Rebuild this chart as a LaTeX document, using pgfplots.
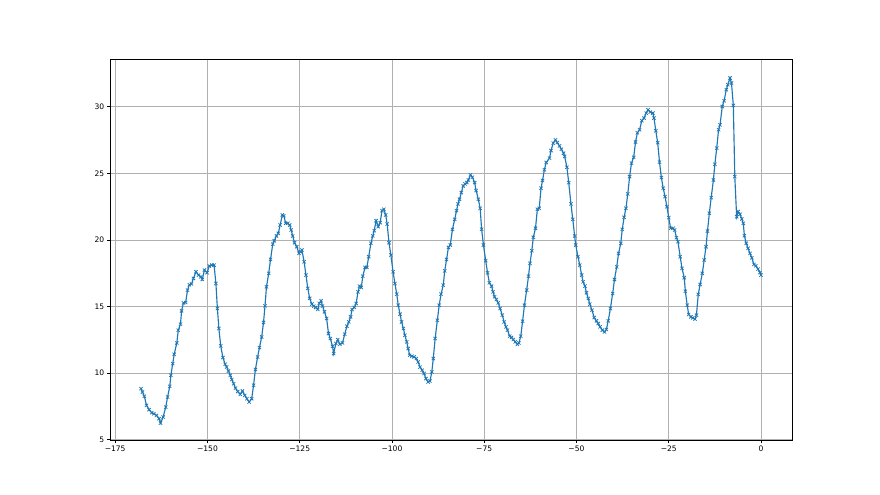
\documentclass[border=0pt]{standalone}
\usepackage{pgfplots}
\pgfplotsset{compat=1.18}
\usepackage{fontspec}
\setmainfont{DejaVu Sans}
\definecolor{tabblue}{HTML}{1F77B4}
\definecolor{gridgray}{HTML}{B0B0B0}
\pgfplotstableread{
x y
-168.0 8.82
-167.6 8.56
-167.1 8.24
-166.5 7.56
-165.8 7.24
-165.1 7.01
-164.5 6.93
-163.8 6.81
-163.1 6.56
-162.7 6.23
-162.0 6.68
-161.3 7.43
-160.8 8.19
-160.2 8.99
-159.9 9.82
-159.4 10.70
-159.0 11.40
-158.3 12.25
-157.9 13.21
-157.3 13.66
-157.0 14.66
-156.5 15.26
-155.9 15.29
-155.4 16.22
-154.9 16.62
-154.3 16.69
-153.8 17.10
-153.1 17.60
-152.4 17.35
-151.8 17.22
-151.4 17.02
-150.8 17.73
-150.1 17.53
-149.5 18.03
-148.8 18.10
-148.2 18.10
-147.7 16.72
-147.3 14.84
-146.9 13.34
-146.4 12.03
-145.8 11.15
-145.2 10.65
-144.8 10.44
-144.3 10.14
-143.8 9.82
-143.4 9.50
-142.9 9.19
-142.4 8.85
-141.8 8.60
-141.1 8.39
-140.5 8.64
-139.9 8.31
-139.3 8.06
-138.7 7.81
-138.0 8.06
-137.5 9.07
-137.0 10.25
-136.4 11.20
-135.9 11.90
-135.3 12.70
-134.8 13.79
-134.4 15.04
-134.0 16.47
-133.4 17.48
-132.9 18.53
-132.3 19.68
-131.9 19.93
-131.3 20.29
-130.8 20.49
-130.3 21.11
-129.7 21.87
-129.3 21.81
-128.8 21.24
-128.2 21.24
-127.7 21.11
-127.3 20.74
-126.9 20.29
-126.4 19.78
-125.8 19.48
-125.2 18.98
-124.8 19.11
-124.4 19.23
-123.8 18.35
-123.3 17.35
-122.8 16.35
-122.3 15.60
-121.7 15.17
-121.2 15.02
-120.7 14.92
-120.1 14.77
-119.7 15.22
-119.2 15.42
-118.8 15.02
-118.3 14.59
-117.7 14.09
-117.2 12.96
-116.7 12.58
-116.1 12.00
-115.8 11.45
-115.2 12.21
-114.7 12.50
-114.1 12.15
-113.4 12.25
-112.8 12.91
-112.2 13.51
-111.7 13.83
-111.2 14.21
-110.8 14.77
-110.2 14.92
-109.7 15.22
-109.2 16.09
-108.8 16.52
-108.3 16.42
-107.9 17.27
-107.3 17.93
-106.8 17.93
-106.3 18.73
-105.7 19.74
-105.2 20.29
-104.8 20.69
-104.3 21.44
-103.7 20.99
-103.2 21.29
-102.7 22.19
-102.2 22.30
-101.7 21.87
-101.3 21.19
-100.8 19.78
-100.3 18.86
-99.7 17.60
-99.2 16.72
-98.7 15.92
-98.3 15.09
-97.8 14.41
-97.4 13.83
-96.9 13.34
-96.5 12.83
-96.0 12.33
-95.6 11.83
-95.2 11.33
-94.6 11.25
-94.0 11.20
-93.4 11.08
-92.9 10.82
-92.4 10.44
-91.8 10.20
-91.3 9.95
-90.8 9.57
-90.2 9.31
-89.7 9.39
-89.2 10.07
-88.8 11.08
-88.3 12.58
-87.7 13.96
-87.2 15.09
-86.7 15.92
-86.1 16.60
-85.7 17.67
-85.2 18.53
-84.7 19.43
-84.2 19.61
-83.6 20.79
-83.0 21.54
-82.5 22.19
-82.1 22.70
-81.7 23.05
-81.2 23.55
-80.7 24.05
-80.2 24.20
-79.7 24.30
-79.3 24.50
-78.7 24.88
-78.2 24.70
-77.6 24.30
-77.2 23.70
-76.6 23.05
-76.1 22.37
-75.7 20.79
-75.2 19.61
-74.6 18.43
-74.1 17.52
-73.6 16.77
-73.0 16.52
-72.6 16.09
-72.2 15.72
-71.7 15.52
-71.2 15.26
-70.7 14.84
-70.1 14.34
-69.6 13.83
-69.1 13.46
-68.7 13.21
-68.1 12.76
-67.6 12.66
-67.1 12.51
-66.6 12.33
-66.0 12.15
-65.6 12.25
-65.1 12.76
-64.6 13.88
-64.1 15.09
-63.5 16.22
-63.0 17.27
-62.6 18.23
-62.1 19.18
-61.7 20.19
-61.1 20.87
-60.6 22.30
-60.1 22.37
-59.6 23.88
-59.2 24.46
-58.7 25.26
-58.2 25.81
-57.3 26.14
-56.9 26.71
-56.3 27.27
-55.7 27.51
-55.2 27.31
-54.6 27.06
-54.1 26.81
-53.5 26.51
-53.2 26.26
-52.6 25.46
-52.1 24.30
-51.5 22.70
-51.0 21.54
-50.5 20.29
-50.2 19.61
-49.6 18.73
-49.1 18.10
-48.6 17.35
-48.2 16.85
-47.7 16.52
-47.3 16.02
-46.8 15.59
-46.4 15.17
-45.8 14.71
-45.2 14.16
-44.6 13.91
-44.1 13.71
-43.6 13.46
-43.0 13.21
-42.4 13.08
-41.9 13.26
-41.4 13.91
-40.8 14.84
-40.2 15.97
-39.7 17.02
-39.1 17.97
-38.6 18.98
-38.0 19.74
-37.6 20.79
-37.1 21.69
-36.6 22.37
-36.1 23.45
-35.6 24.75
-35.1 25.76
-34.5 26.20
-34.0 27.35
-33.5 28.04
-32.9 28.27
-32.3 28.95
-31.7 29.15
-31.1 29.52
-30.6 29.77
-30.0 29.60
-29.3 29.52
-29.0 29.15
-28.5 28.19
-28.0 27.30
-27.5 25.84
-27.0 24.68
-26.5 23.88
-26.0 23.25
-25.5 22.49
-25.0 21.67
-24.5 20.87
-23.8 20.87
-23.4 20.74
-22.9 20.16
-22.5 19.86
-21.9 18.73
-21.4 17.85
-20.8 17.15
-20.5 16.14
-20.0 15.09
-19.6 14.39
-19.0 14.21
-18.5 14.13
-17.9 14.04
-17.5 14.34
-17.0 15.90
-16.5 16.65
-15.9 17.48
-15.4 18.48
-14.9 19.48
-14.5 20.66
-14.0 22.00
-13.5 23.17
-12.9 24.50
-12.5 25.68
-12.0 26.89
-11.5 28.27
-11.1 28.64
-10.5 30.02
-10.0 30.45
-9.4 31.28
-9.0 31.66
-8.4 32.16
-8.0 31.78
-7.5 30.10
-7.1 24.75
-6.6 21.74
-6.2 22.12
-5.7 21.92
-5.2 21.57
-4.8 21.24
-4.5 20.31
-4.0 19.74
-3.5 19.36
-3.0 18.98
-2.5 18.65
-1.9 18.15
-1.4 18.05
-0.8 17.80
-0.3 17.55
0.0 17.35
}\datatable
\begin{document}
\begin{tikzpicture}
\useasboundingbox (0,0) rectangle (880bp,495bp);
\begin{axis}[
  at={(110bp,54.5bp)}, anchor=south west,
  scale only axis, width=682bp, height=381bp,
  xmin=-176.4, xmax=8.4, ymin=4.92, ymax=33.55,
  xtick={-175,-150,-125,-100,-75,-50,-25,0},
  xticklabels={−175,−150,−125,−100,−75,−50,−25,0},
  ytick={5,10,15,20,25,30},
  xtick pos=bottom, ytick pos=left,
  tick align=outside, major tick length=2.7bp,
  tick style={line width=0.6bp, black},
  axis line style={line width=0.6bp, black},
  grid=major, major grid style={line width=0.6bp, gridgray},
  ticklabel style={font=\fontsize{7.6}{9}\selectfont, inner sep=0pt},
  xticklabel style={yshift=-2.9bp},
  yticklabel style={xshift=-2.9bp},
  /pgf/number format/assume math mode=true,
]
\addplot[color=tabblue, line width=1.15bp, mark=x, mark size=2.3bp,
  mark options={line width=0.76bp, solid}] table[x=x, y=y] {\datatable};
\end{axis}
\end{tikzpicture}
\end{document}
